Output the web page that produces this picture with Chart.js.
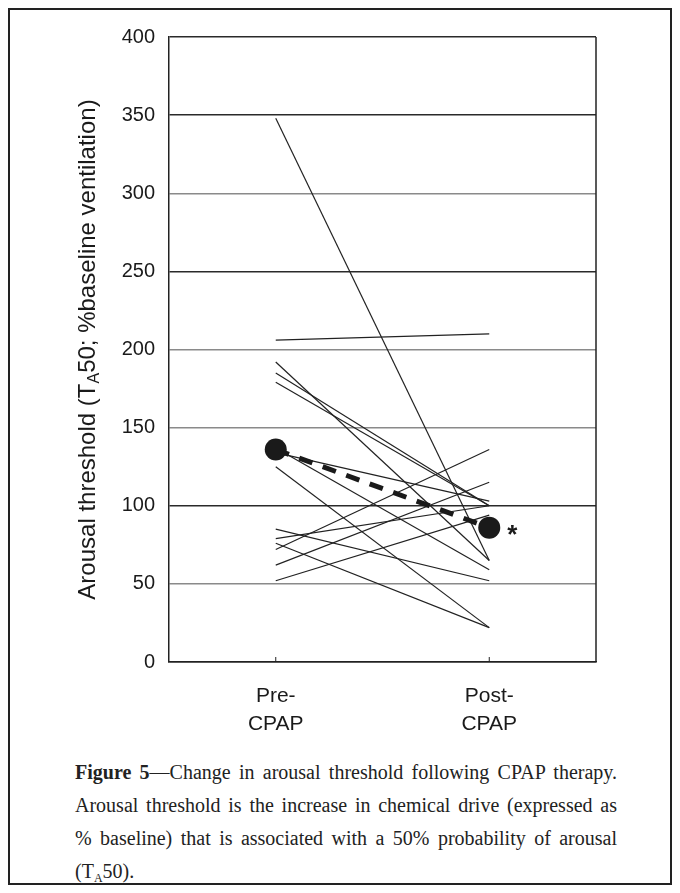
<!DOCTYPE html>
<html>
<head>
<meta charset="utf-8">
<script src="https://cdn.jsdelivr.net/npm/chart.js@4"></script>
<style>
  html, body { margin:0; padding:0; background:#fff; }
  body { width:680px; height:893px; position:relative; overflow:hidden; }
  #frame { position:absolute; left:8px; top:8px; width:664px; height:877px; box-sizing:border-box; border:2px solid #222; }
  #wrap { position:absolute; left:0; top:0; width:680px; height:740px; }
  #caption { position:absolute; left:75px; top:756px; width:542px; font-family:'Liberation Serif','Times New Roman',serif; font-size:20px; line-height:33px; color:#222; text-align:justify; }
  #caption sub { font-size:12px; vertical-align:-4px; line-height:0; }
</style>
</head>
<body>
<div id="frame"></div>
<div id="wrap"><canvas id="c" width="680" height="740"></canvas></div>
<div id="caption"><b>Figure 5</b>—Change in arousal threshold following CPAP therapy. Arousal threshold is the increase in chemical drive (expressed as %&nbsp;baseline) that is associated with a 50% probability of arousal (T<sub>A</sub>50).</div>
<script>
// ---- data ----
const categories = [['Pre-', 'CPAP'], ['Post-', 'CPAP']];
const preValues  = [348, 206, 192, 185, 179, 137, 134, 125, 85, 79, 76, 72, 62, 52];
const postValues = [ 65, 210,  65, 100, 100,  59, 103,  22, 52, 100, 22, 136, 115, 94];
const meanValues = [136, 86];
const yTicks = [0, 50, 100, 150, 200, 250, 300, 350, 400];
const grayGrid = [50, 150, 200, 300];

const subjectSets = preValues.map((p, i) => ({
  data: [p, postValues[i]],
  borderColor: '#222',
  borderWidth: 1.2,
  pointRadius: 0,
  fill: false,
  order: 1
}));

const meanSet = {
  data: meanValues,
  borderColor: '#1a1a1a',
  borderWidth: 5,
  borderDash: [14, 11],
  pointRadius: 11,
  pointBackgroundColor: '#1a1a1a',
  pointBorderColor: '#1a1a1a',
  pointBorderWidth: 0,
  fill: false,
  order: 0
};

const decor = {
  id: 'decor',
  afterDraw(chart) {
    const ctx = chart.ctx;
    const a = chart.chartArea;
    ctx.save();
    // right border of plot box
    ctx.strokeStyle = '#222';
    ctx.lineWidth = 1.5;
    ctx.beginPath();
    ctx.moveTo(a.right, a.top);
    ctx.lineTo(a.right, a.bottom);
    ctx.stroke();
    // inward category tick marks
    const xs = chart.scales.x;
    ctx.lineWidth = 1;
    for (let i = 0; i < categories.length; i++) {
      const px = xs.getPixelForValue(i);
      ctx.beginPath();
      ctx.moveTo(px, a.bottom);
      ctx.lineTo(px, a.bottom - 5);
      ctx.stroke();
    }
    // asterisk next to post mean
    const meta = chart.getDatasetMeta(chart.data.datasets.length - 1);
    const pt = meta.data[1];
    ctx.fillStyle = '#1a1a1a';
    ctx.font = 'bold 26px "Liberation Sans", Arial, sans-serif';
    ctx.textAlign = 'center';
    ctx.textBaseline = 'alphabetic';
    ctx.fillText('*', pt.x + 23, pt.y + 15);
    // y-axis title with subscript
    const parts = [
      { t: 'Arousal threshold (T', s: 24, dy: 0 },
      { t: 'A', s: 16, dy: 7 },
      { t: '50; %baseline ventilation)', s: 24, dy: 0 }
    ];
    let total = 0;
    parts.forEach(p => {
      ctx.font = p.s + 'px "Liberation Sans", Arial, sans-serif';
      p.w = ctx.measureText(p.t).width;
      total += p.w;
    });
    ctx.translate(88, (a.top + a.bottom) / 2);
    ctx.rotate(-Math.PI / 2);
    ctx.textAlign = 'left';
    ctx.textBaseline = 'middle';
    ctx.fillStyle = '#1a1a1a';
    let x = -total / 2;
    parts.forEach(p => {
      ctx.font = p.s + 'px "Liberation Sans", Arial, sans-serif';
      ctx.fillText(p.t, x, p.dy);
      x += p.w;
    });
    ctx.restore();
  }
};

new Chart(document.getElementById('c'), {
  type: 'line',
  data: {
    labels: categories,
    datasets: [...subjectSets, meanSet]
  },
  options: {
    responsive: false,
    animation: false,
    layout: { padding: { top: 37, right: 84, left: 0, bottom: 0 } },
    plugins: { legend: { display: false }, tooltip: { enabled: false } },
    scales: {
      x: {
        type: 'category',
        offset: true,
        grid: { display: false },
        border: { display: true, color: '#222', width: 1.5 },
        ticks: {
          color: '#1a1a1a',
          padding: 13,
          font: { family: '"Liberation Sans", Arial, sans-serif', size: 21, lineHeight: 1.3 }
        },
        afterFit(s) { s.height = 78; }
      },
      y: {
        min: 0,
        max: 400,
        afterBuildTicks(s) { s.ticks = yTicks.map(v => ({ value: v })); },
        grid: {
          drawTicks: false,
          lineWidth: 1.5,
          color: c => (c.tick && grayGrid.includes(c.tick.value)) ? '#8a8a8a' : '#2a2a2a'
        },
        border: { display: true, color: '#222', width: 1.5 },
        ticks: {
          color: '#1a1a1a',
          padding: 14,
          font: { family: '"Liberation Sans", Arial, sans-serif', size: 20 }
        },
        afterFit(s) { s.width = 169; }
      }
    }
  },
  plugins: [decor]
});
</script>
</body>
</html>
